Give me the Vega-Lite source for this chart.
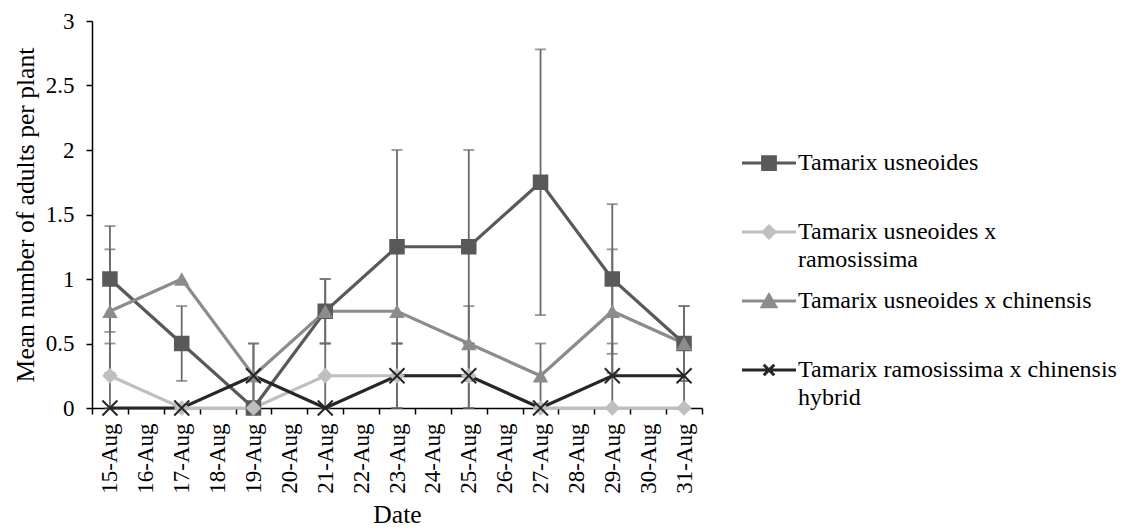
{
  "$schema": "https://vega.github.io/schema/vega-lite/v6.json",
  "autosize": {"type": "none"},
  "padding": {"left": 92, "top": 21, "right": 424, "bottom": 123},
  "width": 610,
  "height": 387,
  "background": "white",
  "config": {
    "font": "Liberation Serif",
    "view": {"stroke": null},
    "axis": {"grid": false, "domainColor": "#000000", "domainWidth": 1.5, "tickColor": "#000000", "tickWidth": 1.5, "tickSize": 6, "labelColor": "#000000", "titleColor": "#000000", "labelFont": "Liberation Serif", "titleFont": "Liberation Serif", "labelFontSize": 23, "titleFontSize": 25.6, "titleFontWeight": "normal"}
  },
  "data": {"values": [
    {"date": "15-Aug", "series": "Tamarix usneoides", "mean": 1.0, "lo": 0.59, "hi": 1.41},
    {"date": "17-Aug", "series": "Tamarix usneoides", "mean": 0.5, "lo": 0.21, "hi": 0.79},
    {"date": "19-Aug", "series": "Tamarix usneoides", "mean": 0.0, "lo": null, "hi": null},
    {"date": "21-Aug", "series": "Tamarix usneoides", "mean": 0.75, "lo": 0.5, "hi": 1.0},
    {"date": "23-Aug", "series": "Tamarix usneoides", "mean": 1.25, "lo": 0.5, "hi": 2.0},
    {"date": "25-Aug", "series": "Tamarix usneoides", "mean": 1.25, "lo": 0.5, "hi": 2.0},
    {"date": "27-Aug", "series": "Tamarix usneoides", "mean": 1.75, "lo": 0.72, "hi": 2.78},
    {"date": "29-Aug", "series": "Tamarix usneoides", "mean": 1.0, "lo": 0.42, "hi": 1.58},
    {"date": "31-Aug", "series": "Tamarix usneoides", "mean": 0.5, "lo": 0.21, "hi": 0.79},
    {"date": "15-Aug", "series": "Tamarix usneoides x ramosissima", "mean": 0.25, "lo": 0.0, "hi": 0.5},
    {"date": "17-Aug", "series": "Tamarix usneoides x ramosissima", "mean": 0.0, "lo": null, "hi": null},
    {"date": "19-Aug", "series": "Tamarix usneoides x ramosissima", "mean": 0.0, "lo": null, "hi": null},
    {"date": "21-Aug", "series": "Tamarix usneoides x ramosissima", "mean": 0.25, "lo": 0.0, "hi": 0.5},
    {"date": "23-Aug", "series": "Tamarix usneoides x ramosissima", "mean": 0.25, "lo": 0.0, "hi": 0.5},
    {"date": "25-Aug", "series": "Tamarix usneoides x ramosissima", "mean": 0.25, "lo": 0.0, "hi": 0.5},
    {"date": "27-Aug", "series": "Tamarix usneoides x ramosissima", "mean": 0.0, "lo": null, "hi": null},
    {"date": "29-Aug", "series": "Tamarix usneoides x ramosissima", "mean": 0.0, "lo": null, "hi": null},
    {"date": "31-Aug", "series": "Tamarix usneoides x ramosissima", "mean": 0.0, "lo": null, "hi": null},
    {"date": "15-Aug", "series": "Tamarix usneoides x chinensis", "mean": 0.75, "lo": 0.27, "hi": 1.23},
    {"date": "17-Aug", "series": "Tamarix usneoides x chinensis", "mean": 1.0, "lo": null, "hi": null},
    {"date": "19-Aug", "series": "Tamarix usneoides x chinensis", "mean": 0.25, "lo": 0.0, "hi": 0.5},
    {"date": "21-Aug", "series": "Tamarix usneoides x chinensis", "mean": 0.75, "lo": 0.5, "hi": 1.0},
    {"date": "23-Aug", "series": "Tamarix usneoides x chinensis", "mean": 0.75, "lo": null, "hi": null},
    {"date": "25-Aug", "series": "Tamarix usneoides x chinensis", "mean": 0.5, "lo": 0.21, "hi": 0.79},
    {"date": "27-Aug", "series": "Tamarix usneoides x chinensis", "mean": 0.25, "lo": 0.0, "hi": 0.5},
    {"date": "29-Aug", "series": "Tamarix usneoides x chinensis", "mean": 0.75, "lo": 0.27, "hi": 1.23},
    {"date": "31-Aug", "series": "Tamarix usneoides x chinensis", "mean": 0.5, "lo": 0.21, "hi": 0.79},
    {"date": "15-Aug", "series": "Tamarix ramosissima x chinensis hybrid", "mean": 0.0, "lo": null, "hi": null},
    {"date": "17-Aug", "series": "Tamarix ramosissima x chinensis hybrid", "mean": 0.0, "lo": null, "hi": null},
    {"date": "19-Aug", "series": "Tamarix ramosissima x chinensis hybrid", "mean": 0.25, "lo": 0.0, "hi": 0.5},
    {"date": "21-Aug", "series": "Tamarix ramosissima x chinensis hybrid", "mean": 0.0, "lo": null, "hi": null},
    {"date": "23-Aug", "series": "Tamarix ramosissima x chinensis hybrid", "mean": 0.25, "lo": 0.0, "hi": 0.5},
    {"date": "25-Aug", "series": "Tamarix ramosissima x chinensis hybrid", "mean": 0.25, "lo": 0.0, "hi": 0.5},
    {"date": "27-Aug", "series": "Tamarix ramosissima x chinensis hybrid", "mean": 0.0, "lo": null, "hi": null},
    {"date": "29-Aug", "series": "Tamarix ramosissima x chinensis hybrid", "mean": 0.25, "lo": 0.0, "hi": 0.5},
    {"date": "31-Aug", "series": "Tamarix ramosissima x chinensis hybrid", "mean": 0.25, "lo": 0.0, "hi": 0.5}
  ]},
  "encoding": {
    "x": {
      "field": "date", "type": "ordinal", "bandPosition": 0.5,
      "scale": {"type": "band", "paddingInner": 0, "paddingOuter": 0, "domain": ["15-Aug","16-Aug","17-Aug","18-Aug","19-Aug","20-Aug","21-Aug","22-Aug","23-Aug","24-Aug","25-Aug","26-Aug","27-Aug","28-Aug","29-Aug","30-Aug","31-Aug"]},
      "axis": {"title": "Date", "labelAngle": -90, "labelAlign": "right", "labelBaseline": "middle", "labelPadding": 9, "tickBand": "extent", "titlePadding": 9, "labelOverlap": false}
    }
  },
  "layer": [
    {
      "transform": [{"filter": "datum.lo != null"}],
      "mark": {"type": "rule", "color": "#6a6a6a", "strokeWidth": 1.8},
      "encoding": {
        "y": {"field": "lo", "type": "quantitative"},
        "y2": {"field": "hi"}
      }
    },
    {
      "transform": [{"filter": "datum.lo != null"}],
      "mark": {"type": "tick", "color": "#6a6a6a", "thickness": 1.8, "size": 11, "orient": "horizontal"},
      "encoding": {"y": {"field": "lo", "type": "quantitative"}}
    },
    {
      "transform": [{"filter": "datum.lo != null"}],
      "mark": {"type": "tick", "color": "#6a6a6a", "thickness": 1.8, "size": 11, "orient": "horizontal"},
      "encoding": {"y": {"field": "hi", "type": "quantitative"}}
    },
    {
      "mark": {"type": "line", "strokeWidth": 3.2},
      "encoding": {
        "y": {
          "field": "mean", "type": "quantitative",
          "scale": {"domain": [0, 3], "nice": false, "zero": true},
          "axis": {"title": "Mean number of adults per plant", "values": [0, 0.5, 1, 1.5, 2, 2.5, 3], "format": "~g", "labelPadding": 12, "titlePadding": 7}
        },
        "color": {
          "field": "series", "type": "nominal",
          "scale": {"domain": ["Tamarix usneoides", "Tamarix usneoides x ramosissima", "Tamarix usneoides x chinensis", "Tamarix ramosissima x chinensis hybrid"], "range": ["#595959", "#bfbfbf", "#8c8c8c", "#262626"]},
          "legend": {
            "orient": "none", "legendX": 665, "legendY": 130, "title": null,
            "labelFont": "Liberation Serif", "labelFontSize": 24, "labelColor": "#000000", "labelLimit": 400,
            "labelOffset": 17, "rowPadding": 17, "gridAlign": "all", "symbolSize": 225, "symbolStrokeWidth": 3, "direction": "vertical",
            "labelExpr": "datum.label === 'Tamarix usneoides x ramosissima' ? ['Tamarix usneoides x', 'ramosissima'] : datum.label === 'Tamarix ramosissima x chinensis hybrid' ? ['Tamarix ramosissima x chinensis', 'hybrid'] : datum.label",
            "encode": {
              "symbols": {"update": {
                "shape": {"signal": "datum.value === 'Tamarix usneoides' ? 'M-3.6,0H3.6M-0.85,-0.85H0.85V0.85H-0.85Z' : datum.value === 'Tamarix usneoides x ramosissima' ? 'M-3.6,0H3.6M0,-0.8L0.8,0L0,0.8L-0.8,0Z' : datum.value === 'Tamarix usneoides x chinensis' ? 'M-3.6,0H3.6M0,-0.8L0.9,0.75H-0.9Z' : 'M-3.6,0H3.6M-0.7,-0.7L0.7,0.7M-0.7,0.7L0.7,-0.7'"},
                "fill": {"scale": "color", "field": "value"},
                "stroke": {"scale": "color", "field": "value"},
                "strokeWidth": {"value": 3},
                "size": {"value": 225},
                "opacity": {"value": 1}
              }},
              "labels": {"update": {"lineHeight": {"value": 27.6}}}
            }
          }
        }
      }
    },
    {
      "transform": [{"filter": "datum.series !== 'Tamarix ramosissima x chinensis hybrid'"}],
      "mark": {"type": "point", "filled": true, "opacity": 1, "size": 240},
      "encoding": {
        "y": {"field": "mean", "type": "quantitative"},
        "fill": {"field": "series", "type": "nominal", "legend": null,
          "scale": {"domain": ["Tamarix usneoides", "Tamarix usneoides x ramosissima", "Tamarix usneoides x chinensis"], "range": ["#595959", "#bfbfbf", "#8c8c8c"]}},
        "shape": {"field": "series", "type": "nominal", "legend": null,
          "scale": {"domain": ["Tamarix usneoides", "Tamarix usneoides x ramosissima", "Tamarix usneoides x chinensis"], "range": ["square", "diamond", "triangle-up"]}}
      }
    },
    {
      "transform": [{"filter": "datum.series === 'Tamarix ramosissima x chinensis hybrid'"}],
      "mark": {"type": "point", "filled": false, "opacity": 1, "size": 225, "strokeWidth": 2, "shape": "M-1,-1L1,1M-1,1L1,-1", "color": "#262626"},
      "encoding": {
        "y": {"field": "mean", "type": "quantitative"}
      }
    }
  ]
}
